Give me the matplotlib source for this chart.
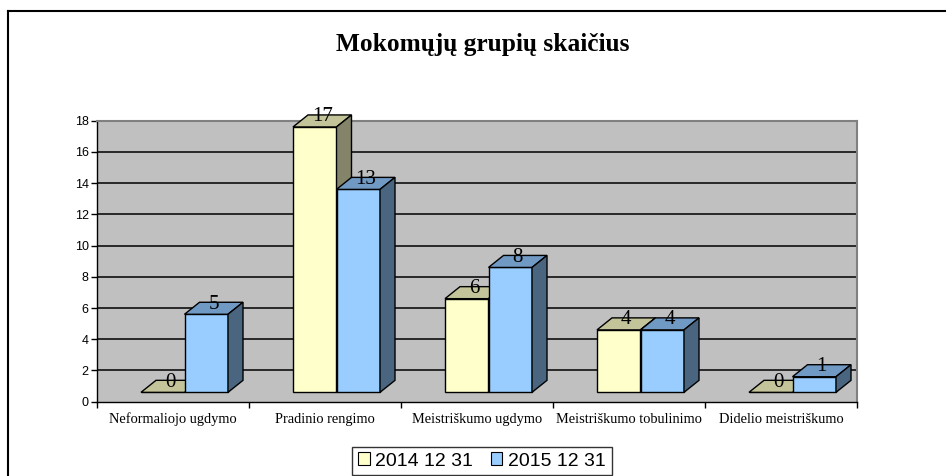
import matplotlib
matplotlib.use("Agg")
import matplotlib.pyplot as plt
from matplotlib.patches import Polygon, Patch
from matplotlib.lines import Line2D

categories = ["Neformaliojo ugdymo", "Pradinio rengimo", "Meistriškumo ugdymo",
              "Meistriškumo tobulinimo", "Didelio meistriškumo"]
series_names = ["2014 12 31", "2015 12 31"]
values_2014 = [0, 17, 6, 4, 0]
values_2015 = [5, 13, 8, 4, 1]
yticks = [0, 2, 4, 6, 8, 10, 12, 14, 16, 18]
title = "Mokomųjų grupių skaičius"

W, H = 946, 476
fig = plt.figure(figsize=(W / 100, H / 100), dpi=100)
fig.patch.set_facecolor("white")

ax_l, ax_r, ax_t, ax_b = 97, 857, 120.7, 401.7
ax = fig.add_axes([ax_l / W, 1 - ax_b / H, (ax_r - ax_l) / W, (ax_b - ax_t) / H])
ax.set_facecolor("#C0C0C0")
ax.set_xlim(-0.5, len(categories) - 0.5)
ax.set_ylim(0, 18)

for y in yticks[1:-1]:
    ax.axhline(y, color="black", lw=1.1, zorder=1)

for s in ["top", "right"]:
    ax.spines[s].set_color("#808080")
    ax.spines[s].set_linewidth(1.5)
ax.spines["left"].set_color("black")
ax.spines["bottom"].set_color("black")
ax.spines["left"].set_linewidth(1.0)
ax.spines["bottom"].set_linewidth(1.0)

ax.set_yticks(yticks)
ax.set_yticklabels([str(v) for v in yticks], fontfamily="Liberation Sans", fontsize=9)
ax.tick_params(axis="y", direction="out", length=4, width=1, pad=2)
ax.set_xticks([i - 0.5 for i in range(len(categories) + 1)])
ax.set_xticklabels([""] * (len(categories) + 1))
ax.tick_params(axis="x", direction="out", length=4, width=1)
for i, c in enumerate(categories):
    ax.text(i, -0.7, c, ha="center", va="top", fontfamily="Liberation Serif",
            fontsize=10.4, transform=ax.transData)

# 3D bar geometry (in data units)
bw = 43.5 / 152.0
shift = 11.5 / 152.0
dx = 15 / 152.0
dy = 12 / 15.6
base = 0.6

colors = [
    {"front": "#FFFFCC", "top": "#C4C49A", "side": "#84846A"},
    {"front": "#99CCFF", "top": "#7099C4", "side": "#4A6580"},
]

def bar3d(x0, v, col):
    y0 = base
    y1 = base + v
    x1 = x0 + bw
    kw = dict(edgecolor="black", linewidth=1.0, clip_on=False, zorder=3, joinstyle="miter")
    ax.add_patch(Polygon([(x0, y0), (x1, y0), (x1, y1), (x0, y1)], closed=True,
                         facecolor=col["front"], **kw))
    ax.add_patch(Polygon([(x0, y1), (x1, y1), (x1 + dx, y1 + dy), (x0 + dx, y1 + dy)],
                         closed=True, facecolor=col["top"], **kw))
    if v > 0:
        ax.add_patch(Polygon([(x1, y0), (x1 + dx, y0 + dy), (x1 + dx, y1 + dy), (x1, y1)],
                             closed=True, facecolor=col["side"], **kw))
    ax.text(x0 + bw / 2 + dx / 2, v + 1.25, str(v), ha="center", va="center",
            fontfamily="Liberation Serif", fontsize=15, zorder=5, clip_on=False)

for i in range(len(categories)):
    left = i + shift - bw
    bar3d(left, values_2014[i], colors[0])
    bar3d(left + bw, values_2015[i], colors[1])

fig.text(483 / W, 1 - 45 / H, title, ha="center", va="center",
         fontfamily="Liberation Serif", fontweight="bold", fontsize=18.3)

# outer chart border
fig.add_artist(Line2D([8 / W, 8 / W], [1 - 11 / H, -0.1], color="black", lw=1.5,
                      transform=fig.transFigure))
fig.add_artist(Line2D([8 / W, 1.1], [1 - 11 / H, 1 - 11 / H], color="black", lw=1.5,
                      transform=fig.transFigure))

handles = [Patch(facecolor=colors[0]["front"], edgecolor="black", linewidth=0.8),
           Patch(facecolor=colors[1]["front"], edgecolor="black", linewidth=0.8)]
leg = fig.legend(handles, series_names, loc="center", bbox_to_anchor=(482 / W, 1 - 461 / H),
                 ncol=2, frameon=True, fancybox=False, edgecolor="black",
                 prop={"family": "Liberation Sans", "size": 14},
                 handlelength=0.6, handleheight=0.6, handletextpad=0.3, columnspacing=0.9,
                 borderpad=0.3, borderaxespad=0)
leg.get_frame().set_linewidth(1.0)

fig.savefig("out.png", dpi=100)
